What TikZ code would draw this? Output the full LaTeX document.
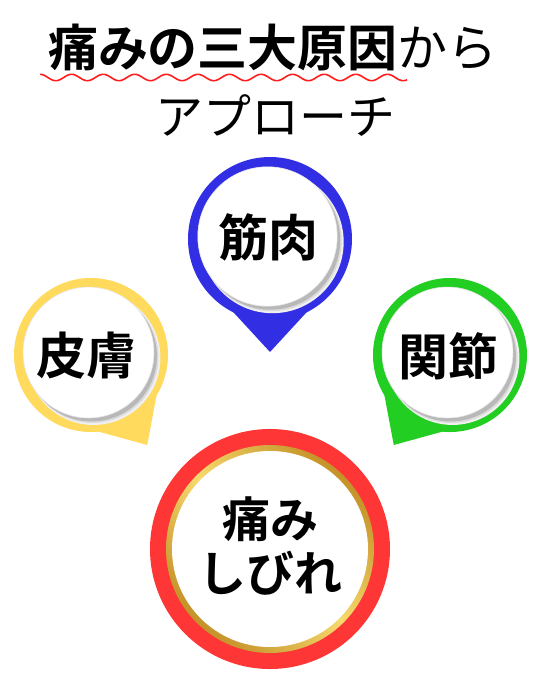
\documentclass[tikz,border=0pt]{standalone}
\usepackage{fontspec}
\setmainfont{Noto Sans CJK JP}[BoldFont={Noto Sans CJK JP Bold}]
\definecolor{pinblue}{RGB}{50,46,228}
\definecolor{pinyellow}{RGB}{255,218,92}
\definecolor{pingreen}{RGB}{34,206,34}
\definecolor{ringred}{RGB}{255,54,54}
\definecolor{golddark}{RGB}{196,146,40}
\definecolor{goldlight}{RGB}{246,218,110}
\definecolor{wavered}{RGB}{255,30,30}
\newcommand\mypin[6]{%
  \begin{scope}[shift={(#1,#2)}]
    \begin{scope}[rotate=#4, scale=#3/82]
      \fill[#5] (0,0) circle[radius=82];
      \fill[#5] (0,113) -- (-70,37) -- (70,37) -- cycle;
    \end{scope}
    \fill[black!6] (2.5,3) circle[radius=0.85*#3+1.5];
    \fill[black!14] (1.5,2) circle[radius=0.85*#3+0.5];
    \fill[black!28] (0.5,1) circle[radius=0.85*#3];
    \fill[white] (-2.5,-2.5) circle[radius=0.85*#3];
    \draw[black!10, line width=0.6pt] (-2.5,-2.5) circle[radius=0.85*#3];
  \end{scope}}
\tikzset{
  pinlabel/.style={font=\bfseries\fontsize{50}{50}\selectfont, inner sep=0pt},
  titlebold/.style={font=\bfseries\fontsize{50}{50}\selectfont, inner sep=0pt},
  titlereg/.style={font=\fontsize{48}{48}\selectfont, inner sep=0pt}
}
\begin{document}
\begin{tikzpicture}[x=1pt,y=-1pt]
\useasboundingbox (0,0) rectangle (540,675);
% title
\node[titlebold] (t1) at (273,47) {痛みの三大原因{\mdseries から}};
\draw[wavered, line width=1.6pt, domain=40:407, samples=240, smooth] plot (\x,{77.5-3.2*cos(11.4*(\x-40))});
\node[titlereg] (t2) at (275,116) {アプローチ};
% pins
\mypin{270}{239}{82}{0}{pinblue}{blue}
\mypin{91}{355}{77}{32}{pinyellow}{yellow}
\mypin{450}{355}{77}{-32}{pingreen}{green}
\node[pinlabel] (muscle) at (268,237) {筋肉};
\node[pinlabel] (skin) at (86,356) {皮膚};
\node[pinlabel] (joint) at (448,356) {関節};
% central ring
\fill[ringred] (270,549) circle[radius=120];
\shade[left color=golddark, right color=golddark, middle color=goldlight, shading angle=135] (270,549) circle[radius=104];
\fill[white] (270,549) circle[radius=98];
\node[align=center, font=\bfseries\fontsize{48}{54}\selectfont, inner sep=0pt] (pain) at (270,546) {痛み\\しびれ};
\end{tikzpicture}
\end{document}
